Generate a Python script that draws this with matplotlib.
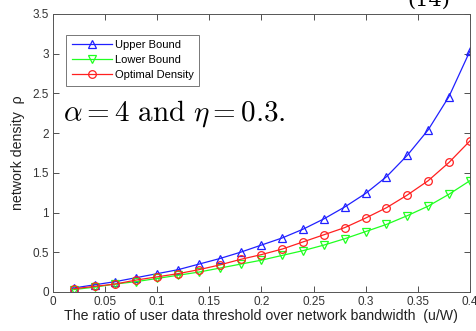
import numpy as np
import matplotlib
matplotlib.use("Agg")
import matplotlib.pyplot as plt

plt.rcParams['font.family'] = ['Liberation Sans', 'DejaVu Sans']
plt.rcParams['mathtext.fontset'] = 'cm'

# threshold ratio u/W
ratio = [0.02, 0.04, 0.06, 0.08, 0.10, 0.12, 0.14, 0.16, 0.18, 0.20,
         0.22, 0.24, 0.26, 0.28, 0.30, 0.32, 0.34, 0.36, 0.38, 0.40]
upper = [0.05, 0.09, 0.13, 0.18, 0.23, 0.28, 0.35, 0.42, 0.50, 0.59,
         0.68, 0.79, 0.92, 1.07, 1.24, 1.45, 1.72, 2.04, 2.46, 3.03]
lower = [0.03, 0.06, 0.10, 0.13, 0.17, 0.21, 0.25, 0.30, 0.35, 0.40,
         0.46, 0.52, 0.59, 0.67, 0.76, 0.85, 0.96, 1.08, 1.23, 1.40]
optimal = [0.04, 0.07, 0.10, 0.15, 0.19, 0.23, 0.28, 0.34, 0.41, 0.47,
           0.54, 0.63, 0.72, 0.81, 0.93, 1.06, 1.22, 1.40, 1.63, 1.90]

xticks = [0, 0.05, 0.1, 0.15, 0.2, 0.25, 0.3, 0.35, 0.4]
yticks = [0, 0.5, 1, 1.5, 2, 2.5, 3, 3.5]

fig = plt.figure(figsize=(4.77, 3.31), dpi=100)
ax = fig.add_axes([0.111, 0.118, 0.874, 0.840])

style = dict(lw=0.9, ms=5.5, mfc='none', mew=0.9)
ax.plot(ratio, upper, '-^', color='#2020ff', label='Upper Bound', **style)
ax.plot(ratio, lower, '-v', color='#20ff20', label='Lower Bound', **style)
ax.plot(ratio, optimal, '-o', color='#ff2020', label='Optimal Density', **style)

ax.set_xlim(0, 0.4)
ax.set_ylim(0, 3.5)
ax.set_xticks(xticks)
ax.set_xticklabels(['0', '0.05', '0.1', '0.15', '0.2', '0.25', '0.3', '0.35', '0.4'])
ax.set_yticks(yticks)
ax.set_yticklabels(['0', '0.5', '1', '1.5', '2', '2.5', '3', '3.5'])
ax.tick_params(direction='in', top=True, right=True, labelsize=8.5, length=4, width=0.6, pad=3,
               colors='#333333')
for s in ax.spines.values():
    s.set_linewidth(0.7)
    s.set_color('#555555')

ax.set_xlabel('The ratio of user data threshold over network bandwidth  (u/W)', fontsize=10.2,
              labelpad=1, color='#222222')
ax.set_ylabel('network density  ρ', fontsize=10.2, labelpad=5, color='#222222')

leg = ax.legend(loc='upper left', bbox_to_anchor=(0.018, 0.945), fontsize=8, fancybox=False,
                handlelength=3.6, borderpad=0.5, labelspacing=0.45, handletextpad=0.3)
leg.get_frame().set_edgecolor('#555555')
leg.get_frame().set_linewidth(0.7)

ax.text(0.025, 0.64, r'$\alpha = 4\ \mathrm{and}\ \eta = 0.3.$', transform=ax.transAxes,
        fontsize=21, va='center')

fig.text(0.855, 1.0, '(14)', fontsize=15, family='DejaVu Serif', va='center')

fig.savefig('out.png', dpi=100)
